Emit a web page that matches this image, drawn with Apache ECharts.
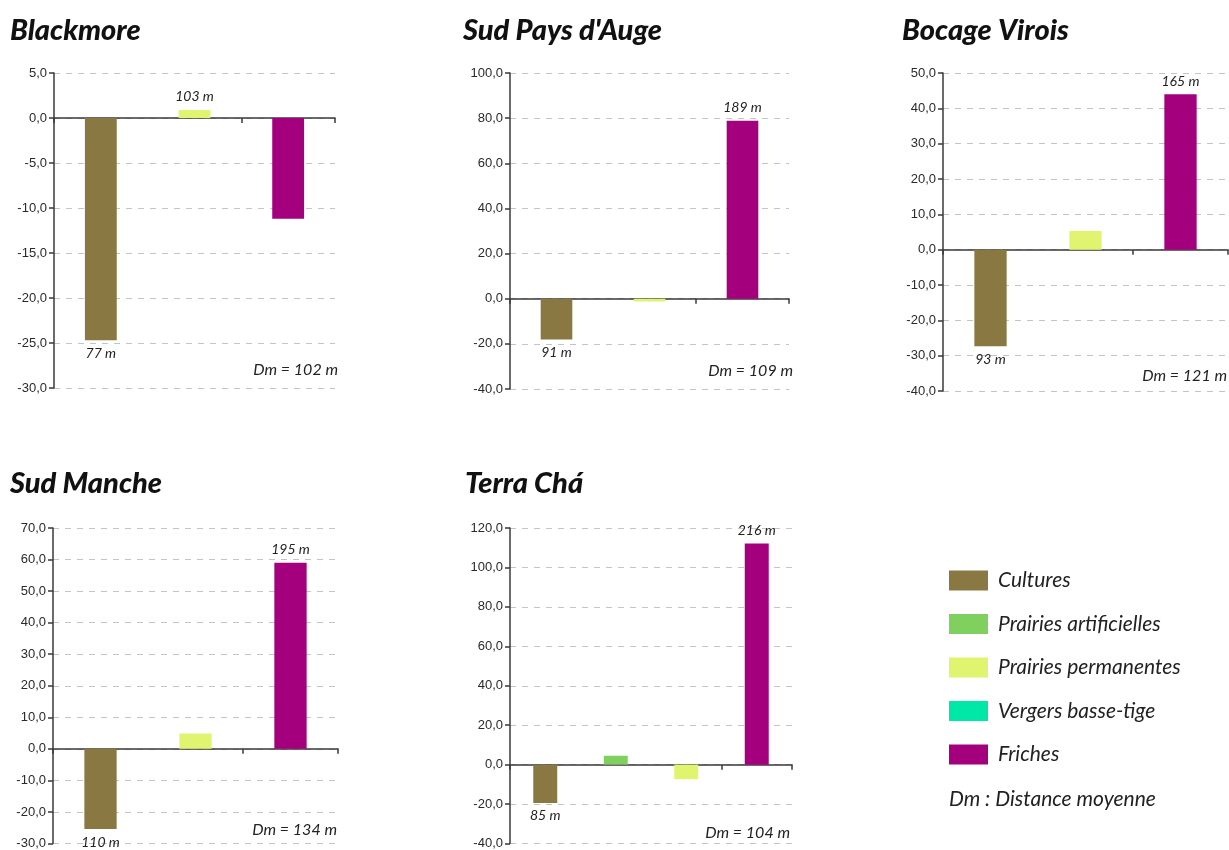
<!DOCTYPE html>
<html>
<head>
<meta charset="utf-8">
<script src="https://cdn.jsdelivr.net/npm/echarts@6/dist/echarts.min.js"></script>
<style>
html,body{margin:0;padding:0;background:#fff;}
#chart{width:1229px;height:850px;}
</style>
</head>
<body>
<div id="chart"></div>
<script>
// ---------- DATA ----------
const landTypes = ['Cultures', 'Prairies artificielles', 'Prairies permanentes', 'Vergers basse-tige', 'Friches'];
const regionNames = ['Blackmore', "Sud Pays d'Auge", 'Bocage Virois', 'Sud Manche', 'Terra Chá'];

const blackmoreCategories = ['Cultures', 'Prairies permanentes', 'Friches'];
const blackmoreValues = [-24.7, 0.9, -11.2];
const blackmoreDistances = [77, 103, null];
const blackmoreDm = 102;
const blackmoreAxis = [-30, 5, 5];

const sudPaysAugeCategories = ['Cultures', 'Prairies permanentes', 'Friches'];
const sudPaysAugeValues = [-18.1, -1.2, 78.8];
const sudPaysAugeDistances = [91, null, 189];
const sudPaysAugeDm = 109;
const sudPaysAugeAxis = [-40, 100, 20];

const bocageViroisCategories = ['Cultures', 'Prairies permanentes', 'Friches'];
const bocageViroisValues = [-27.3, 5.3, 44.0];
const bocageViroisDistances = [93, null, 165];
const bocageViroisDm = 121;
const bocageViroisAxis = [-40, 50, 10];

const sudMancheCategories = ['Cultures', 'Prairies permanentes', 'Friches'];
const sudMancheValues = [-25.4, 4.9, 59.0];
const sudMancheDistances = [110, null, 195];
const sudMancheDm = 134;
const sudMancheAxis = [-30, 70, 10];

const terraChaCategories = ['Cultures', 'Prairies artificielles', 'Prairies permanentes', 'Friches'];
const terraChaValues = [-19.4, 4.5, -7.4, 112.2];
const terraChaDistances = [85, null, null, 216];
const terraChaDm = 104;
const terraChaAxis = [-40, 120, 20];

// ---------- STYLE / LAYOUT ----------
const typeColors = {
  'Cultures': '#8a7842',
  'Prairies artificielles': '#80d060',
  'Prairies permanentes': '#e0f470',
  'Vergers basse-tige': '#00e8a8',
  'Friches': '#a4007e'
};

const panels = [
  {cats: blackmoreCategories, vals: blackmoreValues, dist: blackmoreDistances, dm: blackmoreDm, axis: blackmoreAxis,
   grid: {left: 54, top: 73, width: 281, height: 315}, title: {left: 10, top: 16}, dmPos: [338, 370]},
  {cats: sudPaysAugeCategories, vals: sudPaysAugeValues, dist: sudPaysAugeDistances, dm: sudPaysAugeDm, axis: sudPaysAugeAxis,
   grid: {left: 510, top: 73, width: 279, height: 316}, title: {left: 463, top: 16}, dmPos: [793, 371]},
  {cats: bocageViroisCategories, vals: bocageViroisValues, dist: bocageViroisDistances, dm: bocageViroisDm, axis: bocageViroisAxis,
   grid: {left: 943, top: 73, width: 285, height: 318}, title: {left: 902, top: 16}, dmPos: [1227, 376]},
  {cats: sudMancheCategories, vals: sudMancheValues, dist: sudMancheDistances, dm: sudMancheDm, axis: sudMancheAxis,
   grid: {left: 53, top: 528, width: 285, height: 316}, title: {left: 10, top: 469}, dmPos: [337, 830]},
  {cats: terraChaCategories, vals: terraChaValues, dist: terraChaDistances, dm: terraChaDm, axis: terraChaAxis,
   grid: {left: 510, top: 528, width: 282, height: 319}, title: {left: 465, top: 469}, dmPos: [790, 833]}
];

const fmt = v => v.toFixed(1).replace('.', ',');
const italicFont = 'Lato';

const grids = [], xAxes = [], yAxes = [], series = [], titles = [], graphics = [];

panels.forEach((p, i) => {
  grids.push(Object.assign({containLabel: false}, p.grid));
  titles.push({
    text: regionNames[i], left: p.title.left, top: p.title.top, padding: 0,
    textStyle: {fontFamily: italicFont, fontStyle: 'italic', fontWeight: 900, fontSize: 29, color: '#111'}
  });
  xAxes.push({
    type: 'category', gridIndex: i, data: p.cats,
    axisLine: {onZero: true, lineStyle: {color: '#3a3a3a', width: 1.5}},
    axisTick: {show: true, length: 5, lineStyle: {color: '#3a3a3a', width: 1.5}},
    axisLabel: {show: false}, splitLine: {show: false}
  });
  yAxes.push({
    type: 'value', gridIndex: i, min: p.axis[0], max: p.axis[1], interval: p.axis[2],
    axisLine: {show: true, lineStyle: {color: '#3a3a3a', width: 1.5}},
    axisTick: {show: true, length: 5, lineStyle: {color: '#3a3a3a', width: 1.5}},
    axisLabel: {formatter: fmt, fontFamily: 'Liberation Sans', fontSize: 13, color: '#2a2a2a', margin: 7},
    splitLine: {show: true, lineStyle: {color: '#c4c4c4', type: [6, 6], width: 1}}
  });
  landTypes.forEach(t => {
    if (p.cats.indexOf(t) < 0) return;
    series.push({
      name: t, type: 'bar', xAxisIndex: i, yAxisIndex: i,
      barWidth: '34%', barGap: '-100%',
      itemStyle: {color: typeColors[t]},
      data: p.cats.map((c, j) => {
        if (c !== t) return null;
        const v = p.vals[j], d = p.dist[j];
        return {
          value: v,
          label: {
            show: d != null, position: v >= 0 ? 'top' : 'bottom', distance: 6,
            formatter: d != null ? d + ' m' : '',
            fontFamily: italicFont, fontStyle: 'italic', fontSize: 14, color: '#222'
          }
        };
      })
    });
  });
  graphics.push({
    type: 'text', x: p.dmPos[0], y: p.dmPos[1],
    style: {text: 'Dm = ' + p.dm + ' m', textAlign: 'right', textVerticalAlign: 'middle',
            font: 'italic 16px ' + italicFont, fill: '#222'}
  });
});

// legend-only series for a type absent from all panels
series.push({name: 'Vergers basse-tige', type: 'bar', xAxisIndex: 0, yAxisIndex: 0,
             barWidth: '34%', barGap: '-100%', itemStyle: {color: typeColors['Vergers basse-tige']}, data: []});

graphics.push({
  type: 'text', x: 949, y: 799,
  style: {text: 'Dm : Distance moyenne', textAlign: 'left', textVerticalAlign: 'middle',
          font: 'italic 21px ' + italicFont, fill: '#222'}
});

const chart = echarts.init(document.getElementById('chart'), null, {renderer: 'canvas'});
chart.setOption({
  animation: false,
  backgroundColor: '#fff',
  title: titles,
  grid: grids,
  xAxis: xAxes,
  yAxis: yAxes,
  legend: {
    data: landTypes, orient: 'vertical', left: 949, top: 570, padding: 0,
    itemWidth: 39, itemHeight: 20, itemGap: 22.5, icon: 'rect', selectedMode: false,
    textStyle: {fontFamily: italicFont, fontStyle: 'italic', fontSize: 21, color: '#222', padding: [0, 0, 0, 5]}
  },
  graphic: graphics,
  series: series
});
</script>
</body>
</html>
